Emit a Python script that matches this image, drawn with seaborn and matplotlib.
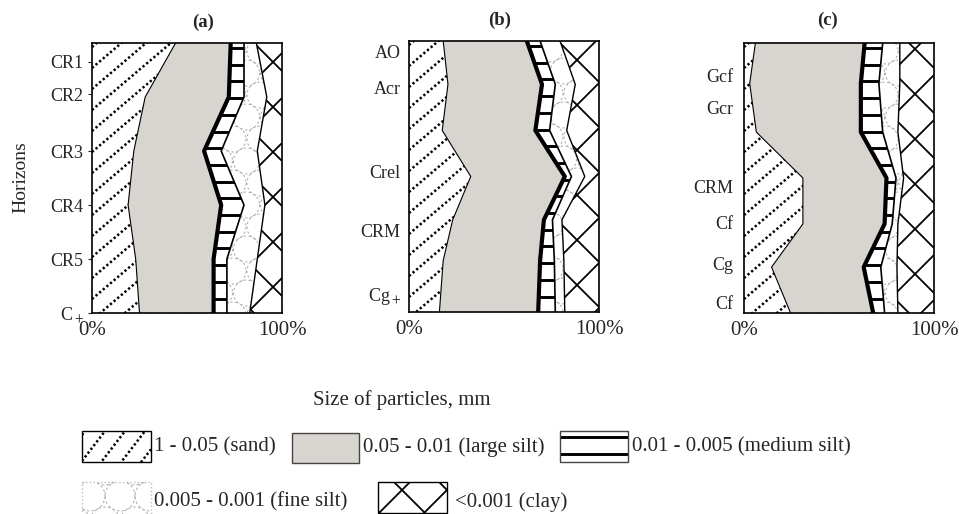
import numpy as np
import pandas as pd
import matplotlib
matplotlib.use("Agg")
import matplotlib.pyplot as plt
import seaborn as sns
from matplotlib.collections import LineCollection
from matplotlib.patches import Rectangle
from matplotlib.transforms import Affine2D

# ---------------- data: % of each particle-size fraction at depth vertices ----------------
depth_a = [0, 20, 40, 60, 80, 100]
sand_a = [44, 28, 22, 19, 23, 25]
lsilt_a = [29, 44, 37, 49, 41, 39]
msilt_a = [7, 8, 9, 12, 7, 7]
fsilt_a = [6.5, 12, 19, 11, 16, 12]
clay_a = [13.5, 8, 13, 9, 13, 17]
hz_pos_a = [7, 19, 40, 60, 80, 100]
hz_lab_a = ["CR1", "CR2", "CR3", "CR4", "CR5", "C$_+$"]

depth_b = [0, 16, 33, 50, 66, 81, 100]
sand_b = [18, 20.5, 17.5, 32.5, 23, 18, 16]
lsilt_b = [44, 49.5, 49, 49.5, 48, 51, 52]
msilt_b = [7, 7, 7.5, 3.5, 4.5, 7.5, 9]
fsilt_b = [10.5, 10.5, 9, 7, 5, 5, 5]
clay_b = [20.5, 12.5, 17, 7.5, 19.5, 18.5, 18]
hz_pos_b = [4, 17, 48, 70, 93]
hz_lab_b = ["AO", "Acr", "Crel", "CRM", "Cg$_+$"]

depth_c = [0, 15, 33, 50, 67, 83, 100]
sand_c = [6, 3, 6.5, 31, 31, 14.5, 24.5]
lsilt_c = [57.5, 58.5, 55, 44, 43, 48.5, 43.5]
msilt_c = [9.5, 9.5, 11.5, 5, 4, 9, 6]
fsilt_c = [9, 11, 8, 4, 3, 8.5, 7]
clay_c = [18, 18, 19, 16, 19, 19.5, 19]
hz_pos_c = [12, 24, 53, 66.5, 81.5, 96]
hz_lab_c = ["Gcf", "Gcr", "CRM", "Cf", "Cg", "Cf"]

fraction_labels = ["1 - 0.05 (sand)", "0.05 - 0.01 (large silt)",
                   "0.01 - 0.005 (medium silt)", "0.005 - 0.001 (fine silt)",
                   "<0.001 (clay)"]
panel_titles = ["(a)", "(b)", "(c)"]
x_tick_pos = [0, 100]
x_tick_labels = ["0%", "100%"]
y_axis_label = "Horizons"
legend_title = "Size of particles, mm"

# ---------------- style ----------------
sns.set_style("white")
plt.rcParams["font.family"] = ["Liberation Serif", "DejaVu Serif"]
plt.rcParams["mathtext.fontset"] = "stix"
plt.rcParams["axes.edgecolor"] = "black"

W, H = 959, 514
fig = plt.figure(figsize=(W / 100, H / 100), dpi=100)
PX = Affine2D().scale(1 / W, -1 / H).translate(0, 1) + fig.transFigure

GRAY = "#d8d5d0"


def line_family(x0, y0, x1, y1, slope, spacing, axx, ayy):
    ya = ayy + slope * (x0 - axx)
    yb = ayy + slope * (x1 - axx)
    kmin = int(np.floor((y0 - max(ya, yb)) / spacing)) - 1
    kmax = int(np.ceil((y1 - min(ya, yb)) / spacing)) + 1
    return [[(x0, ya + k * spacing), (x1, yb + k * spacing)] for k in range(kmin, kmax + 1)]


def circle_grid(x0, y0, x1, y1, r, dx, dy, axx, ayy):
    t = np.linspace(0, 2 * np.pi, 49)
    segs = []
    j0 = int(np.floor((y0 - r - ayy) / dy)) - 1
    j1 = int(np.ceil((y1 + r - ayy) / dy)) + 1
    for j in range(j0, j1 + 1):
        off = (dx / 2) * (j % 2)
        i0 = int(np.floor((x0 - r - axx - off) / dx)) - 1
        i1 = int(np.ceil((x1 + r - axx - off) / dx)) + 1
        for i in range(i0, i1 + 1):
            cx = axx + off + i * dx
            cy = ayy + j * dy
            segs.append(np.column_stack([cx + r * np.cos(t), cy + r * np.sin(t)]))
    return segs


def add_tex(ax, segs, clip_path, clip_trans, transform, **kw):
    lc = LineCollection(segs, transform=transform, **kw)
    ax.add_collection(lc, autolim=False)
    if clip_trans is None:
        lc.set_clip_path(clip_path)
    else:
        lc.set_clip_path(clip_path, clip_trans)
    return lc


SAND_KW = dict(colors="black", linewidths=1.8, linestyles=[(0, (0.9, 1.0))])
STRIPE_KW = dict(colors="black", linewidths=2.1)
FINE_KW = dict(colors="#a9a9a9", linewidths=0.7, linestyles=[(0, (2.5, 2.5))])
CLAY_KW = dict(colors="black", linewidths=1.3)


def sand_tex(bb):
    return line_family(*bb, slope=-0.85, spacing=21, axx=bb[0], ayy=bb[1] + 4)


def stripe_tex(bb, y_anchor):
    return line_family(*bb, slope=0.0, spacing=16.7, axx=bb[0], ayy=y_anchor)


def fine_tex(bb):
    return circle_grid(*bb, r=13, dx=27, dy=22, axx=bb[0] + 6, ayy=bb[1] + 8)


def clay_tex(bb, anchor):
    return (line_family(*bb, slope=1.0, spacing=45, axx=anchor[0], ayy=anchor[1]) +
            line_family(*bb, slope=-1.0, spacing=45, axx=anchor[0], ayy=anchor[1]))


panels = [
    dict(depth=depth_a, sand=sand_a, lsilt=lsilt_a, msilt=msilt_a, fsilt=fsilt_a, clay=clay_a,
         pos=hz_pos_a, lab=hz_lab_a, rect=(92, 43, 282, 313), clay_anchor=(273, 62),
         title_xy=(203, 22), ytick_len=3, ypad=3),
    dict(depth=depth_b, sand=sand_b, lsilt=lsilt_b, msilt=msilt_b, fsilt=fsilt_b, clay=clay_b,
         pos=hz_pos_b, lab=hz_lab_b, rect=(409, 41, 599, 312), clay_anchor=(577, 60),
         title_xy=(500, 20), ytick_len=0, ypad=6),
    dict(depth=depth_c, sand=sand_c, lsilt=lsilt_c, msilt=msilt_c, fsilt=fsilt_c, clay=clay_c,
         pos=hz_pos_c, lab=hz_lab_c, rect=(744, 43, 934, 313), clay_anchor=(915, 49),
         title_xy=(828, 20), ytick_len=0, ypad=8),
]

for i, p in enumerate(panels):
    x0, y0, x1, y1 = p["rect"]
    ax = fig.add_axes([x0 / W, 1 - y1 / H, (x1 - x0) / W, (y1 - y0) / H])
    df = pd.DataFrame({"depth": p["depth"], "sand": p["sand"], "lsilt": p["lsilt"],
                       "msilt": p["msilt"], "fsilt": p["fsilt"], "clay": p["clay"]})
    cols = ["sand", "lsilt", "msilt", "fsilt", "clay"]
    cum = df[cols].cumsum(axis=1)
    d = df["depth"].to_numpy()
    left = np.zeros(len(d))
    faces = ["white", GRAY, "white", "white", "white"]
    polys = {}
    for c, fc in zip(cols, faces):
        right = cum[c].to_numpy()
        polys[c] = ax.fill_betweenx(d, left, right, facecolor=fc, edgecolor="none",
                                    linewidth=0, zorder=1)
        left = right

    bb = (x0, y0, x1, y1)
    add_tex(ax, sand_tex(bb), polys["sand"].get_paths()[0], ax.transData, PX,
            zorder=2, **SAND_KW)
    add_tex(ax, stripe_tex(bb, y0 + 5), polys["msilt"].get_paths()[0], ax.transData, PX,
            zorder=2, **STRIPE_KW)
    add_tex(ax, fine_tex(bb), polys["fsilt"].get_paths()[0], ax.transData, PX,
            zorder=2, **FINE_KW)
    add_tex(ax, clay_tex(bb, p["clay_anchor"]), polys["clay"].get_paths()[0], ax.transData,
            PX, zorder=2, **CLAY_KW)

    # boundary lines (seaborn)
    widths = {"sand": 0.8, "lsilt": 3.0, "msilt": 1.2, "fsilt": 1.0}
    for c, lw in widths.items():
        sns.lineplot(x=cum[c], y=df["depth"], orient="y", sort=False, estimator=None,
                     color="black", linewidth=lw, ax=ax, zorder=3)

    ax.set_xlim(0, 100)
    ax.set_ylim(100, 0)
    ax.set_xlabel("")
    ax.set_ylabel("")
    ax.set_xticks(x_tick_pos)
    ax.set_xticklabels(x_tick_labels)
    ax.set_xticks(np.arange(10, 100, 10), minor=True)
    ax.tick_params(axis="x", which="major", length=0, pad=6, labelsize=15, bottom=True)
    ax.tick_params(axis="x", which="minor", direction="in", length=4, width=0.8,
                   bottom=True, top=False)
    ax.set_yticks(p["pos"])
    ax.set_yticklabels(p["lab"])
    ax.tick_params(axis="y", which="major", left=True, length=p["ytick_len"], width=0.8,
                   pad=p["ypad"], labelsize=13)
    for s in ax.spines.values():
        s.set_visible(True)
        s.set_color("black")
        s.set_linewidth(1.2)
        s.set_zorder(5)

    fig.text(p["title_xy"][0], p["title_xy"][1], panel_titles[i], transform=PX,
             ha="center", va="center", fontsize=13.5, fontweight="bold")

fig.text(21, 177, y_axis_label, transform=PX, rotation=90, ha="center", va="center",
         fontsize=14)

# ---------------- legend (drawn in pixel coordinates) ----------------
lax = fig.add_axes([0, 0, 1, 1])
lax.set_axis_off()
lax.patch.set_visible(False)
lax.set_xlim(0, W)
lax.set_ylim(H, 0)

lax.text(313, 400, legend_title, ha="left", va="center", fontsize=15)

boxes = [
    dict(xy=(82, 431), w=69, h=31, fc="white", ec="black", ls="-", tex="sand", text_x=154, ty=447),
    dict(xy=(292, 433), w=67, h=30, fc=GRAY, ec="#444444", ls="-", tex=None, text_x=363, ty=447),
    dict(xy=(560, 431), w=68, h=31, fc="white", ec="#444444", ls="-", tex="msilt", text_x=632, ty=447),
    dict(xy=(82, 482), w=69, h=34, fc="white", ec="#bbbbbb", ls=":", tex="fsilt", text_x=154, ty=502),
    dict(xy=(378, 482), w=69, h=31, fc="white", ec="black", ls="-", tex="clay", text_x=455, ty=502),
]
for b, lab in zip(boxes, fraction_labels):
    bx0, by0 = b["xy"]
    fill = Rectangle(b["xy"], b["w"], b["h"], facecolor=b["fc"], edgecolor="none",
                     linewidth=0, zorder=1)
    lax.add_patch(fill)
    edge = Rectangle(b["xy"], b["w"], b["h"], facecolor="none", edgecolor=b["ec"],
                     linewidth=1.0, linestyle=b["ls"], zorder=4)
    lax.add_patch(edge)
    bb = (bx0, by0, bx0 + b["w"], by0 + b["h"])
    if b["tex"] == "sand":
        add_tex(lax, line_family(*bb, slope=-1.3, spacing=26, axx=bx0, ayy=by0 + 4),
                fill, None, lax.transData, zorder=2, **SAND_KW)
    elif b["tex"] == "msilt":
        add_tex(lax, stripe_tex(bb, 437), fill, None, lax.transData, zorder=2, **STRIPE_KW)
    elif b["tex"] == "fsilt":
        add_tex(lax, circle_grid(*bb, r=15, dx=30, dy=26, axx=bx0 + 8, ayy=by0 + 14),
                fill, None, lax.transData, zorder=2, **FINE_KW)
    elif b["tex"] == "clay":
        add_tex(lax, clay_tex(bb, (402, 490)), fill, None, lax.transData, zorder=2, **CLAY_KW)
    lax.text(b["text_x"], b["ty"], lab, ha="left", va="center", fontsize=15)

fig.savefig("out.png", dpi=100)
